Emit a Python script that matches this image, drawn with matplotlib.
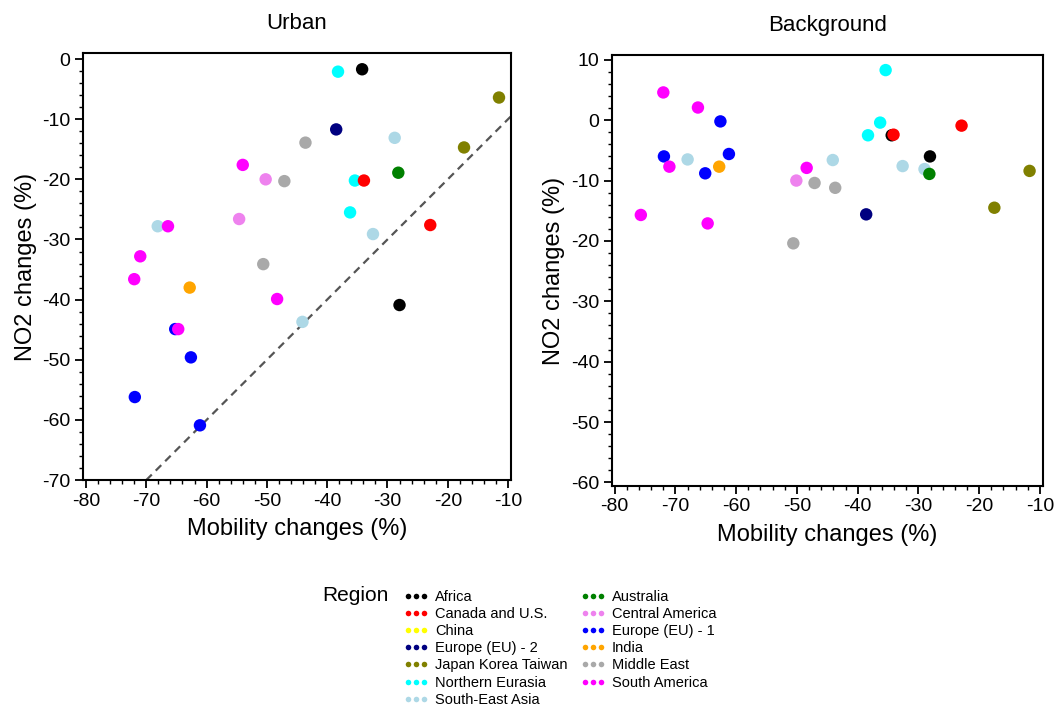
import matplotlib.pyplot as plt
from matplotlib.lines import Line2D
from matplotlib.ticker import MultipleLocator

plt.rcParams["font.family"] = ["Liberation Sans", "DejaVu Sans"]
plt.rcParams["axes.unicode_minus"] = False

# region colours
region_colors = {
    "Africa": "#000000",
    "Australia": "#008000",
    "Canada and U.S.": "#FF0000",
    "Central America": "#EE82EE",
    "China": "#FFFF00",
    "Europe (EU) - 1": "#0000FF",
    "Europe (EU) - 2": "#000080",
    "India": "#FFA500",
    "Japan Korea Taiwan": "#808000",
    "Middle East": "#A9A9A9",
    "Northern Eurasia": "#00FFFF",
    "South America": "#FF00FF",
    "South-East Asia": "#ADD8E6",
}

# ---- urban sites ----
urban_region = ["Northern Eurasia", "Africa", "Japan Korea Taiwan", "Europe (EU) - 2", "South-East Asia",
                "Middle East", "Japan Korea Taiwan", "South America", "Australia", "Central America",
                "Middle East", "Northern Eurasia", "Canada and U.S.", "Northern Eurasia", "Central America",
                "South-East Asia", "South America", "Canada and U.S.", "South-East Asia", "South America",
                "South America", "Middle East", "India", "South America", "Africa",
                "South-East Asia", "Europe (EU) - 1", "South America", "Europe (EU) - 1", "Europe (EU) - 1",
                "Europe (EU) - 1"]
urban_mobility = [-38.2, -34.2, -11.5, -38.5, -28.8,
                  -43.6, -17.3, -54.0, -28.2, -50.2,
                  -47.1, -35.4, -33.9, -36.2, -54.6,
                  -68.1, -66.4, -22.9, -32.4, -71.0,
                  -72.0, -50.6, -62.8, -48.3, -28.0,
                  -44.1, -65.2, -64.7, -62.6, -71.9,
                  -61.1]
urban_no2 = [-2.1, -1.7, -6.4, -11.7, -13.1,
             -13.9, -14.7, -17.6, -18.9, -20.0,
             -20.3, -20.2, -20.2, -25.5, -26.6,
             -27.8, -27.8, -27.6, -29.1, -32.8,
             -36.6, -34.1, -38.0, -39.9, -40.9,
             -43.7, -44.9, -44.9, -49.6, -56.2,
             -60.9]

# ---- background sites ----
bg_region = ["South America", "South America", "Northern Eurasia", "Europe (EU) - 1", "Northern Eurasia",
             "Canada and U.S.", "Northern Eurasia", "Africa", "Canada and U.S.", "Europe (EU) - 1",
             "South-East Asia", "Europe (EU) - 1", "Africa", "South America", "Europe (EU) - 1",
             "India", "South America", "South-East Asia", "South-East Asia", "South-East Asia",
             "Australia", "Japan Korea Taiwan", "Central America", "Middle East", "Middle East",
             "Japan Korea Taiwan", "Europe (EU) - 2", "South America", "South America", "Middle East"]
bg_mobility = [-72.0, -66.3, -35.4, -62.6, -36.3,
               -22.9, -38.3, -34.4, -34.1, -71.9,
               -68.0, -61.2, -28.1, -71.0, -65.1,
               -62.8, -48.4, -44.1, -32.6, -29.0,
               -28.2, -11.7, -50.1, -47.1, -43.7,
               -17.5, -38.6, -75.7, -64.7, -50.6]
bg_no2 = [4.6, 2.1, 8.3, -0.2, -0.4,
          -0.9, -2.5, -2.5, -2.4, -6.0,
          -6.5, -5.6, -6.0, -7.7, -8.8,
          -7.7, -7.9, -6.6, -7.6, -8.1,
          -8.9, -8.4, -10.0, -10.4, -11.2,
          -14.5, -15.6, -15.7, -17.1, -20.4]

# legend order (two columns, filled column by column)
legend_order = ["Africa", "Canada and U.S.", "China", "Europe (EU) - 2", "Japan Korea Taiwan",
                "Northern Eurasia", "South-East Asia",
                "Australia", "Central America", "Europe (EU) - 1", "India", "Middle East", "South America"]

fig = plt.figure(figsize=(10.57, 7.07), dpi=100)
ax1 = fig.add_axes([0.0785, 0.321, 0.405, 0.604])
ax2 = fig.add_axes([0.5787, 0.3126, 0.408, 0.6096])


def style_axis(ax, title, ylim, yticks):
    ax.set_xlim(-80.5, -9.5)
    ax.set_ylim(*ylim)
    ax.set_xticks(range(-80, 0, 10))
    ax.set_yticks(yticks)
    ax.xaxis.set_minor_locator(MultipleLocator(2))
    ax.yaxis.set_minor_locator(MultipleLocator(2))
    ax.tick_params(which="major", direction="out", length=6, width=1.3, labelsize=14, pad=3)
    ax.tick_params(which="minor", direction="out", length=3, width=1.0)
    for sp in ax.spines.values():
        sp.set_linewidth(1.5)
    ax.set_xlabel("Mobility changes (%)", fontsize=17, labelpad=6)
    ax.set_ylabel("NO2 changes (%)", fontsize=17, labelpad=4)
    ax.set_title(title, fontsize=16, pad=17)


ax1.scatter(urban_mobility, urban_no2, c=[region_colors[r] for r in urban_region], s=80,
            edgecolors="none", zorder=3)
ax1.axline((-70, -70), slope=1, color="#555555", ls="--", lw=1.6, dashes=(3.5, 2.5), zorder=2)
style_axis(ax1, "Urban", (-70, 1), range(-70, 1, 10))

ax2.scatter(bg_mobility, bg_no2, c=[region_colors[r] for r in bg_region], s=80,
            edgecolors="none", zorder=3)
style_axis(ax2, "Background", (-60.6, 10.8), range(-60, 11, 10))

handles = [Line2D([], [], ls="none", marker="o", ms=4, mec="none", color=region_colors[r])
           for r in legend_order]
fig.legend(handles, legend_order, loc="upper left", bbox_to_anchor=(0.382, 0.166), ncol=2,
           numpoints=3, handlelength=1.7, handletextpad=0.45, columnspacing=0.9,
           labelspacing=0.22, fontsize=10.5, frameon=False, borderpad=0, borderaxespad=0)
fig.text(0.305, 0.158, "Region", fontsize=15, ha="left", va="center")

fig.savefig("out.png", dpi=100)
